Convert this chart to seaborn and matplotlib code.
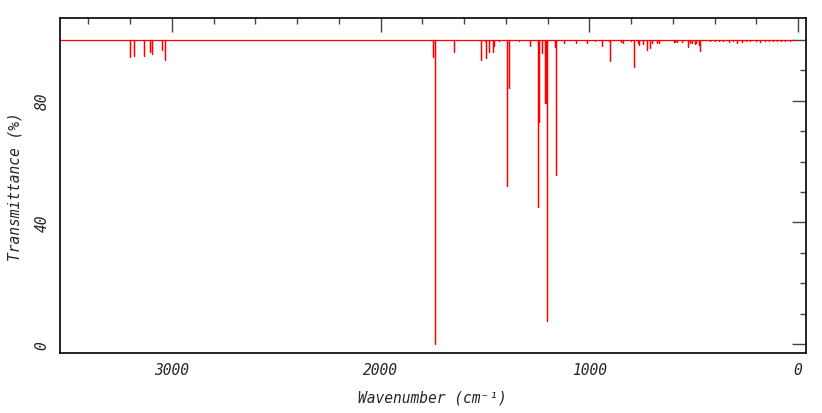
import numpy as np
import pandas as pd
import matplotlib
matplotlib.use("Agg")
import matplotlib.pyplot as plt
import seaborn as sns
from matplotlib.ticker import MultipleLocator, FixedLocator

# stick spectrum: wavenumber (cm-1) and transmittance (%) at each line
wavenumber = [3202, 3181, 3132, 3103, 3094, 3047, 3033,
              1751, 1738, 1646, 1635, 1520, 1499, 1494, 1478, 1462, 1456, 1432,
              1395, 1383, 1335, 1284, 1245, 1239, 1228, 1212, 1208, 1202, 1193,
              1165, 1159, 1119, 1065, 1012, 971, 937, 905, 899, 849, 840, 802,
              785, 768, 760, 741, 722, 707, 699, 674, 664,
              594, 588, 580, 554, 525, 517, 509, 495, 488, 476, 469,
              420, 400, 380, 360, 329, 310, 294, 270, 250, 230, 200, 182,
              160, 140, 120, 100, 80, 60, 40]
transmittance = [94.5, 94.8, 94.8, 96.0, 95.3, 96.5, 93.5,
                 94.3, 0.0, 96.0, 99.8, 93.4, 99.5, 94.1, 96.0, 96.0, 98.1, 99.5,
                 52.1, 84.1, 99.7, 98.1, 45.0, 73.1, 95.6, 79.4, 79.4, 7.7, 99.8,
                 97.6, 55.6, 99.0, 99.0, 98.8, 99.6, 97.9, 99.6, 93.2, 99.3, 98.8, 99.5,
                 91.0, 98.9, 98.2, 98.7, 96.8, 97.2, 98.9, 98.8, 99.1,
                 99.3, 99.4, 99.3, 99.2, 97.8, 98.8, 99.1, 98.6, 98.8, 98.4, 96.2,
                 99.6, 99.7, 99.6, 99.7, 99.2, 99.6, 98.8, 99.3, 99.6, 99.7, 99.6, 99.4,
                 99.7, 99.6, 99.7, 99.6, 99.7, 99.6, 99.7]
baseline = 100.0
x_start, x_end = 4000, 15

# trace path: baseline with a vertical stick down to each line
px, py = [x_start], [baseline]
for w, t in sorted(zip(wavenumber, transmittance), reverse=True):
    px += [w, w, w]
    py += [baseline, t, baseline]
px.append(x_end)
py.append(baseline)
trace = pd.DataFrame({"wn": px, "T": py})

sns.set_style("white")
plt.rcParams["font.family"] = ["DejaVu Sans Mono", "DejaVu Sans"]

fig = plt.figure(figsize=(8.22, 4.14), dpi=100)
ax = fig.add_axes([0.0724, 0.1442, 0.9078, 0.8087])

sns.lineplot(data=trace, x="wn", y="T", sort=False, estimator=None,
             color="red", lw=0.9, ax=ax)

ax.set_xlim(3538, -37)
ax.set_ylim(-3, 107)

ax.xaxis.set_major_locator(MultipleLocator(1000))
ax.xaxis.set_minor_locator(MultipleLocator(200))
ax.yaxis.set_major_locator(FixedLocator([0, 40, 80, 100]))
ax.yaxis.set_minor_locator(MultipleLocator(10))
ax.set_yticklabels(["0", "40", "80", ""])

ax.tick_params(which="both", direction="in", top=True, right=True,
               color="#444444", width=1)
ax.tick_params(which="major", length=10)
ax.tick_params(which="minor", length=4)
ax.tick_params(axis="x", which="major", pad=6.5, labelsize=10.5)
ax.tick_params(axis="y", which="major", pad=7, labelsize=10.5)
for lab in ax.get_xticklabels():
    lab.set_style("italic")
for lab in ax.get_yticklabels():
    lab.set_style("italic")
    lab.set_rotation(90)
    lab.set_va("center")

for s in ax.spines.values():
    s.set_color("black")
    s.set_linewidth(1.2)

ax.set_xlabel("Wavenumber (cm\u207b\u00b9)", fontsize=10.5, style="italic", labelpad=9)
ax.set_ylabel("Transmittance (%)", fontsize=10.5, style="italic", labelpad=9)

fig.savefig("out.png", dpi=100)
